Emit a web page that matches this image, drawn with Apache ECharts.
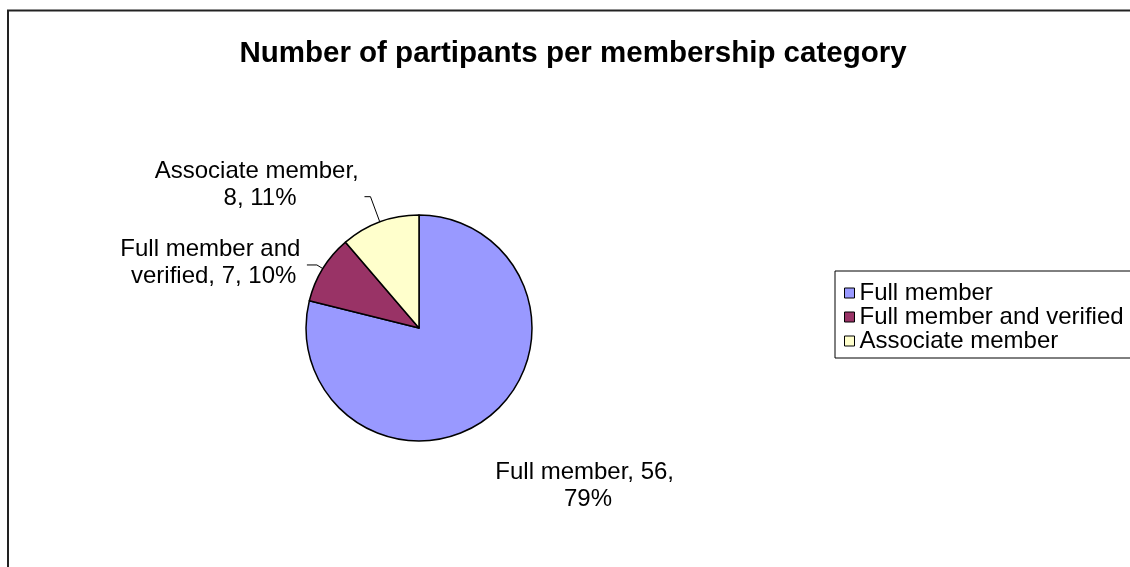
<!DOCTYPE html>
<html>
<head>
<meta charset="utf-8">
<script src="https://cdn.jsdelivr.net/npm/echarts@6/dist/echarts.min.js"></script>
<style>
  html, body { margin: 0; padding: 0; background: #ffffff; }
  #chart { width: 1130px; height: 567px; }
</style>
</head>
<body>
<div id="chart"></div>
<script>
const chartTitle = 'Number of partipants per membership category';
const categories = ['Full member', 'Full member and verified', 'Associate member'];
const participants = [56, 7, 8];
const sliceColors = ['#9999FF', '#993366', '#FFFFCC'];

const FONT = '"Liberation Sans", Arial, Helvetica, sans-serif';

// Per-slice label placement: leader line lengths, wrap width, nudge from the default spot
const labelSetup = [
  { length: 30, length2: 0, width: 195, showLine: false, shift: [-21.6, 45.4] },
  { length: 7, length2: 10, width: 190, showLine: true, shift: [6.8, -2] },
  { length: 27, length2: 6, width: 215, showLine: true, shift: [8.1, -11.7] }
];

const chart = echarts.init(document.getElementById('chart'), null, { renderer: 'canvas' });

const pieData = categories.map(function (name, i) {
  const s = labelSetup[i];
  return {
    name: name,
    value: participants[i],
    itemStyle: { color: sliceColors[i] },
    label: { width: s.width },
    labelLine: { show: s.showLine, length: s.length, length2: s.length2 }
  };
});

chart.setOption({
  animation: false,
  backgroundColor: '#ffffff',
  title: {
    text: chartTitle,
    left: 573,
    top: 54,
    padding: 0,
    textAlign: 'center',
    textVerticalAlign: 'middle',
    textStyle: { fontFamily: FONT, fontSize: 29.5, fontWeight: 'bold', color: '#000000' }
  },
  legend: {
    orient: 'vertical',
    left: 835,
    top: 271,
    padding: [10, 30, 5, 9],
    itemWidth: 10,
    itemHeight: 10,
    itemGap: 0,
    icon: 'rect',
    selectedMode: false,
    borderColor: '#000000',
    borderWidth: 1,
    itemStyle: { borderColor: '#000000', borderWidth: 1 },
    textStyle: { fontFamily: FONT, fontSize: 24, lineHeight: 24, color: '#000000' },
    data: categories
  },
  graphic: [{
    type: 'rect',
    silent: true,
    z: -1,
    shape: { x: 8, y: 10.5, width: 1200, height: 700 },
    style: { fill: 'none', stroke: '#222222', lineWidth: 2 }
  }],
  series: [{
    type: 'pie',
    center: [419, 328],
    radius: 113,
    startAngle: 90,
    clockwise: true,
    percentPrecision: 0,
    avoidLabelOverlap: false,
    emphasis: { disabled: true },
    itemStyle: { borderColor: '#000000', borderWidth: 1.5 },
    label: {
      show: true,
      position: 'outside',
      alignTo: 'none',
      formatter: '{b}, {c}, {d}%',
      fontFamily: FONT,
      fontSize: 24,
      lineHeight: 27,
      color: '#000000',
      overflow: 'break'
    },
    labelLine: { smooth: false, lineStyle: { color: '#000000', width: 1 } },
    labelLayout: function (p) {
      const s = labelSetup[p.dataIndex];
      const r = p.labelRect;
      const out = {
        x: r.x + r.width / 2 + s.shift[0],
        y: r.y + r.height / 2 + s.shift[1],
        align: 'center',
        verticalAlign: 'middle'
      };
      if (p.labelLinePoints) out.labelLinePoints = p.labelLinePoints;
      return out;
    },
    data: pieData
  }]
});
</script>
</body>
</html>
